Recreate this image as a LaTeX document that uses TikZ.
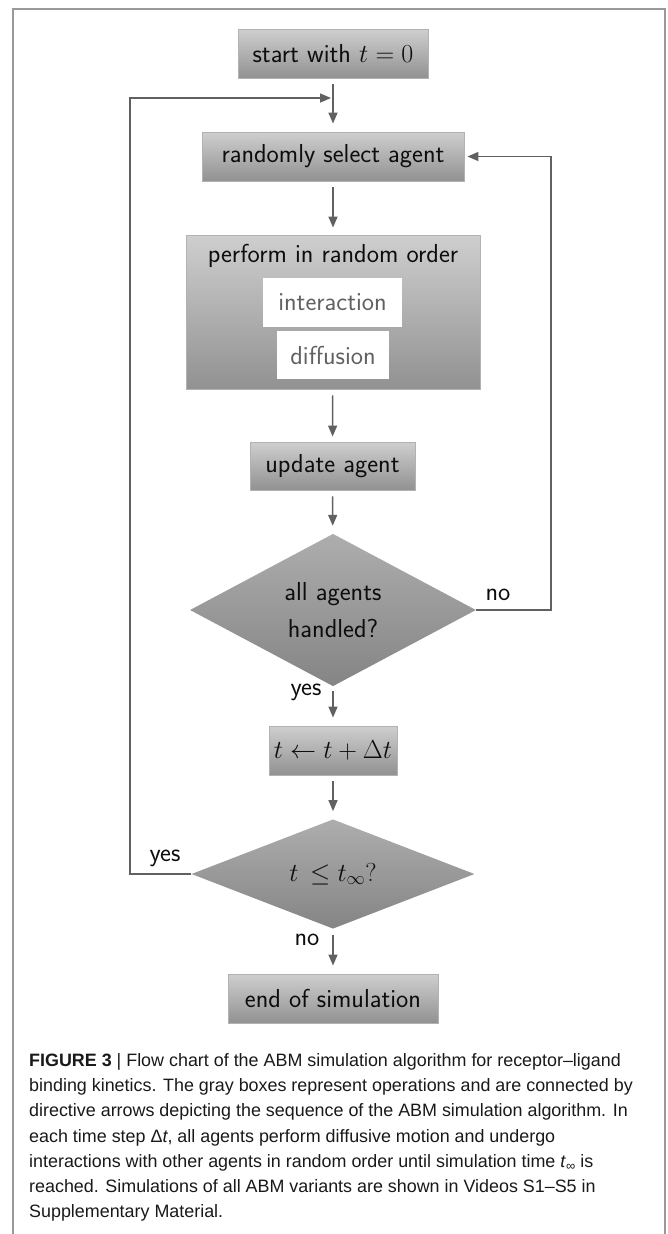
\RequirePackage{fix-cm}
\documentclass[tikz,border=0pt]{standalone}
\usepackage{fontspec}
\newfontfamily\capfont{Liberation Sans}
\usetikzlibrary{shapes.geometric,arrows.meta}
\newcommand{\flowfont}{\fontsize{26}{37}\selectfont\sffamily}
\begin{document}
\begin{tikzpicture}[x=1pt,y=-1pt,
  flowbox/.style={draw=black!30, line width=0.9pt, top color=black!19, bottom color=black!43,
    inner sep=0pt, font=\flowfont, text=black!95},
  innerbox/.style={fill=white, draw=none, inner sep=0pt, font=\flowfont, text=black!62},
  decision/.style={diamond, draw=none, top color=black!32, bottom color=black!48,
    inner sep=0pt, font=\flowfont, text=black!95, align=center},
  conn/.style={draw=black!62, line width=1.5pt, -{Triangle[length=11pt,width=9pt]}},
  lbl/.style={font=\flowfont, text=black!95, inner sep=0pt},
  frameline/.style={draw=black!40, line width=1.4pt}
]
\useasboundingbox (0,0) rectangle (667,1234);
\coordinate (fbl) at (13,1234);
\coordinate (ftl) at (13,9);
\coordinate (ftr) at (665,9);
\coordinate (fbr) at (665,1234);
\draw[frameline] (fbl) -- (ftl) -- (ftr) -- (fbr);

% nodes
\node[flowbox, minimum width=190pt, minimum height=49pt] (start) at (333,53.5) {start with $t=0$};
\node[flowbox, minimum width=262pt, minimum height=49pt] (select) at (333,156.5) {randomly select agent};
\node[flowbox, minimum width=294pt, minimum height=154pt] (perform) at (333,312) {};
\node[lbl] (performtext) at (333,256) {perform in random order};
\node[innerbox, minimum width=139pt, minimum height=49pt] (interaction) at (332.5,302.5) {interaction};
\node[innerbox, minimum width=112pt, minimum height=48pt] (diffusion) at (333,355) {diffusion};
\node[flowbox, minimum width=165pt, minimum height=48pt] (update) at (332.5,466) {update agent};
\node[decision, minimum width=286pt, minimum height=126pt] (handled) at (333,610) {all agents\\handled?};
\node[flowbox, minimum width=128pt, minimum height=49pt] (tstep) at (333,750.5) {$t\leftarrow t+\Delta t$};
\node[decision, minimum width=283pt, minimum height=88pt] (tcheck) at (333,874) {$t\,\le t_\infty?$};
\node[flowbox, minimum width=210pt, minimum height=49pt] (end) at (333,998.5) {end of simulation};

% connectors
\draw[conn, shorten <=6pt, shorten >=8pt] (start) -- (select);
\draw[conn, shorten <=6pt, shorten >=7pt] (select) -- (perform);
\draw[conn, shorten <=6pt, shorten >=5pt] (perform) -- (update);
\draw[conn, shorten <=6pt, shorten >=8pt] (update) -- (handled);
\draw[conn, shorten <=5pt, shorten >=8pt] (handled) -- (tstep);
\draw[conn, shorten <=6pt, shorten >=8pt] (tstep) -- (tcheck);
\draw[conn, shorten <=6pt, shorten >=8pt] (tcheck) -- (end);

\coordinate (noright) at (551,610);
\coordinate (notop) at (551,156.5);
\draw[conn, shorten >=3pt] (handled.east) -- (noright) -- (notop) -- (select.east);

\coordinate (yesleft) at (130,874);
\coordinate (yestop) at (130,98);
\coordinate (merge) at (333,98);
\draw[conn, shorten >=2pt] (tcheck.west) -- (yesleft) -- (yestop) -- (merge);

% labels
\node[lbl] (lno1) at (498,595) {no};
\node[lbl] (lyes1) at (306,692) {yes};
\node[lbl] (lyes2) at (165,858) {yes};
\node[lbl] (lno2) at (307,940) {no};

% caption
\node[anchor=north west, align=left, inner sep=0pt, text=black!90,
  font=\capfont\fontsize{17.9}{25.3}\selectfont] (caption) at (29,1053)
{\textbf{FIGURE 3} | Flow chart of the ABM simulation algorithm for receptor–ligand\\
binding kinetics. The gray boxes represent operations and are connected by\\
directive arrows depicting the sequence of the ABM simulation algorithm. In\\
each time step Δ\textit{t}, all agents perform diffusive motion and undergo\\
interactions with other agents in random order until simulation time \textit{t}\raisebox{-3pt}{\fontsize{13}{13}\selectfont ∞} is\\
reached. Simulations of all ABM variants are shown in Videos S1–S5 in\\
Supplementary Material.};
\end{tikzpicture}
\end{document}
